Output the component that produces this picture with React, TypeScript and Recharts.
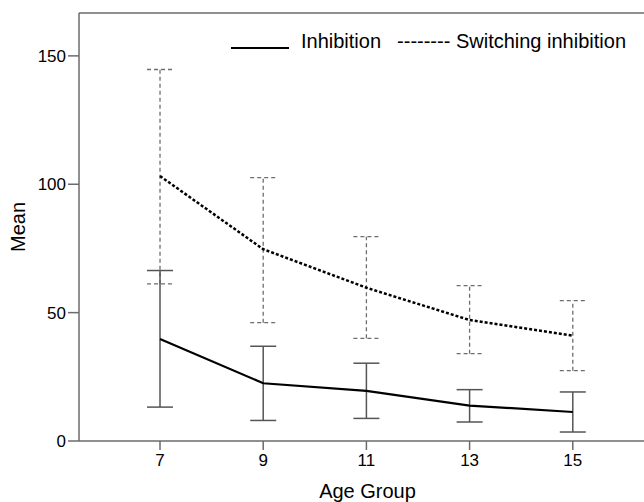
import { ComposedChart, Line, XAxis, YAxis, ErrorBar, ReferenceLine, Legend, Label } from "recharts"

const ages = [7, 9, 11, 13, 15]
const inhibitionMean = [39.7, 22.5, 19.5, 13.8, 11.3]
const inhibitionLow = [13.2, 8.0, 8.8, 7.4, 3.5]
const inhibitionHigh = [66.4, 36.9, 30.3, 20.0, 19.1]
const switchingMean = [103.2, 74.7, 59.7, 47.1, 41.0]
const switchingLow = [61.2, 46.1, 40.0, 34.0, 27.4]
const switchingHigh = [144.7, 102.6, 79.6, 60.5, 54.7]
const yTicks = [0, 50, 100, 150]
const yMax = 166.7

const data = ages.map((age, i) => ({
  age,
  inhibition: inhibitionMean[i],
  inhibitionErr: [inhibitionMean[i] - inhibitionLow[i], inhibitionHigh[i] - inhibitionMean[i]],
  switching: switchingMean[i],
  switchingErr: [switchingMean[i] - switchingLow[i], switchingHigh[i] - switchingMean[i]],
}))

const font = '"Liberation Sans", Arial, sans-serif'
const axisColor = "#6b6b6b"

function LegendBox() {
  return (
    <div style={{ display: "flex", alignItems: "flex-end", fontFamily: font, fontSize: 20, color: "#000", whiteSpace: "nowrap", lineHeight: "23px" }}>
      <div style={{ width: 58, height: 2.5, background: "#000", marginBottom: 4, marginRight: 12 }} />
      <span>Inhibition</span>
      <span style={{ marginLeft: 16 }}>-------- Switching inhibition</span>
    </div>
  )
}

export default function App() {
  return (
    <div style={{ position: "absolute", left: 0, top: 0, width: 644, height: 502, background: "#fff" }}>
      <ComposedChart width={644} height={502} data={data} margin={{ top: 13, right: 0, bottom: 0, left: 0 }} style={{ fontFamily: font }}>
        <XAxis
          dataKey="age"
          type="number"
          domain={[5.43, 16.38]}
          allowDataOverflow
          ticks={ages}
          height={61}
          stroke={axisColor}
          strokeWidth={1.5}
          tickSize={9}
          tickMargin={4}
          tick={{ fill: "#000", fontSize: 17 }}
        >
          <Label value="Age Group" position="insideBottom" offset={4} dx={6} fill="#000" fontSize={20} />
        </XAxis>
        <YAxis
          type="number"
          domain={[0, yMax]}
          allowDataOverflow
          ticks={yTicks}
          width={79}
          stroke={axisColor}
          strokeWidth={1.5}
          tickSize={11}
          tickMargin={2}
          tick={{ fill: "#000", fontSize: 17 }}
        >
          <Label value="Mean" position="center" angle={-90} dx={-22} fill="#000" fontSize={20} />
        </YAxis>
        <ReferenceLine y={yMax} stroke={axisColor} strokeWidth={1.5} />
        <Legend
          layout="vertical"
          align="center"
          verticalAlign="middle"
          wrapperStyle={{ top: 30, left: 231, width: "auto" }}
          content={() => <LegendBox />}
        />
        <Line dataKey="switching" type="linear" stroke="#000" strokeWidth={2.5} strokeDasharray="3 2" dot={false} isAnimationActive={false}>
          <ErrorBar dataKey="switchingErr" direction="y" width={13} stroke="#6e6e6e" strokeWidth={1.3} strokeDasharray="4 3" isAnimationActive={false} />
        </Line>
        <Line dataKey="inhibition" type="linear" stroke="#000" strokeWidth={2.2} dot={false} isAnimationActive={false}>
          <ErrorBar dataKey="inhibitionErr" direction="y" width={13} stroke="#555" strokeWidth={1.5} isAnimationActive={false} />
        </Line>
      </ComposedChart>
    </div>
  )
}
